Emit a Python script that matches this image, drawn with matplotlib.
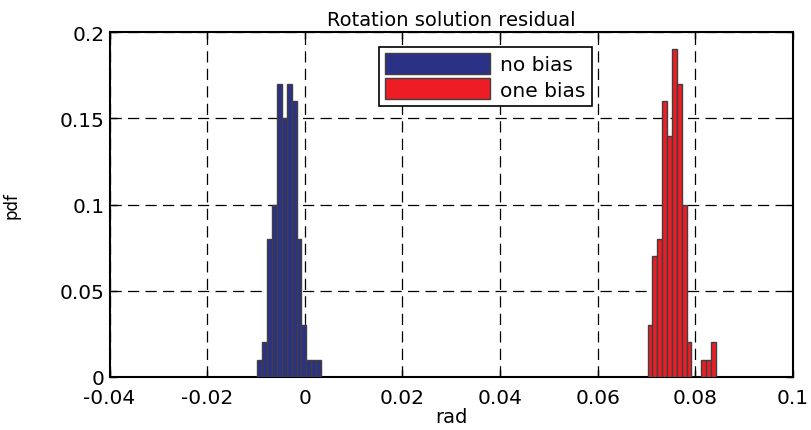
import numpy as np
import matplotlib.pyplot as plt

# Histogrammes normalises (probabilite par classe)
x_sans_biais = [-0.0092, -0.0082, -0.0072, -0.0062, -0.0052, -0.0042, -0.0032,
                -0.0022, -0.0012, -0.0002, 0.0008, 0.0018, 0.0028]
pdf_sans_biais = [0.01, 0.02, 0.08, 0.10, 0.17, 0.15, 0.17, 0.16, 0.08, 0.03,
                  0.01, 0.01, 0.01]

x_un_biais = [0.0707, 0.0717, 0.0727, 0.0737, 0.0747, 0.0757, 0.0767, 0.0777,
              0.0787, 0.0797, 0.0807, 0.0817, 0.0827, 0.0837]
pdf_un_biais = [0.03, 0.07, 0.08, 0.16, 0.14, 0.19, 0.17, 0.10, 0.02, 0.0,
                0.0, 0.01, 0.01, 0.02]

largeur = 0.001

xticks = [-0.04, -0.02, 0, 0.02, 0.04, 0.06, 0.08, 0.1]
xlabels = ['-0.04', '-0.02', '0', '0.02', '0.04', '0.06', '0.08', '0.1']
yticks = [0, 0.05, 0.1, 0.15, 0.2]
ylabels = ['0', '0.05', '0.1', '0.15', '0.2']

plt.rcParams['font.family'] = 'DejaVu Sans'

fig = plt.figure(figsize=(8.12, 4.31), dpi=100)
ax = fig.add_axes([0.1349, 0.123, 0.8417, 0.8004])

ax.bar(x_sans_biais, pdf_sans_biais, width=largeur, color='#2b3185',
       edgecolor='#404040', linewidth=1, label='no bias', zorder=3)
ax.bar(x_un_biais, pdf_un_biais, width=largeur, color='#ee1c25',
       edgecolor='#404040', linewidth=1, label='one bias', zorder=3)

ax.set_xlim(-0.04, 0.1)
ax.set_ylim(0, 0.2)
ax.set_xticks(xticks)
ax.set_xticklabels(xlabels)
ax.set_yticks(yticks)
ax.set_yticklabels(ylabels)
ax.tick_params(direction='in', top=True, right=True, length=5, width=1,
               labelsize=14.5)
ax.tick_params(axis='x', pad=8)
ax.grid(True, color='black', linestyle=(0, (9, 5)), linewidth=0.9)
ax.set_axisbelow(True)
for s in ax.spines.values():
    s.set_linewidth(1.5)

# La cosmetique
ax.set_title('Rotation solution residual', fontsize=14, pad=5)
ax.set_xlabel('rad', fontsize=14, labelpad=0)
ax.set_ylabel('pdf', fontsize=12, labelpad=28)

leg = ax.legend(loc='upper center', bbox_to_anchor=(0.55, 0.985),
                fontsize=14.5, handlelength=5.2, handleheight=1.2,
                fancybox=False, framealpha=1, borderpad=0.3,
                labelspacing=0.2, handletextpad=0.5)
leg.get_frame().set_edgecolor('black')
leg.get_frame().set_linewidth(1.2)

fig.savefig('out.png', dpi=100)
